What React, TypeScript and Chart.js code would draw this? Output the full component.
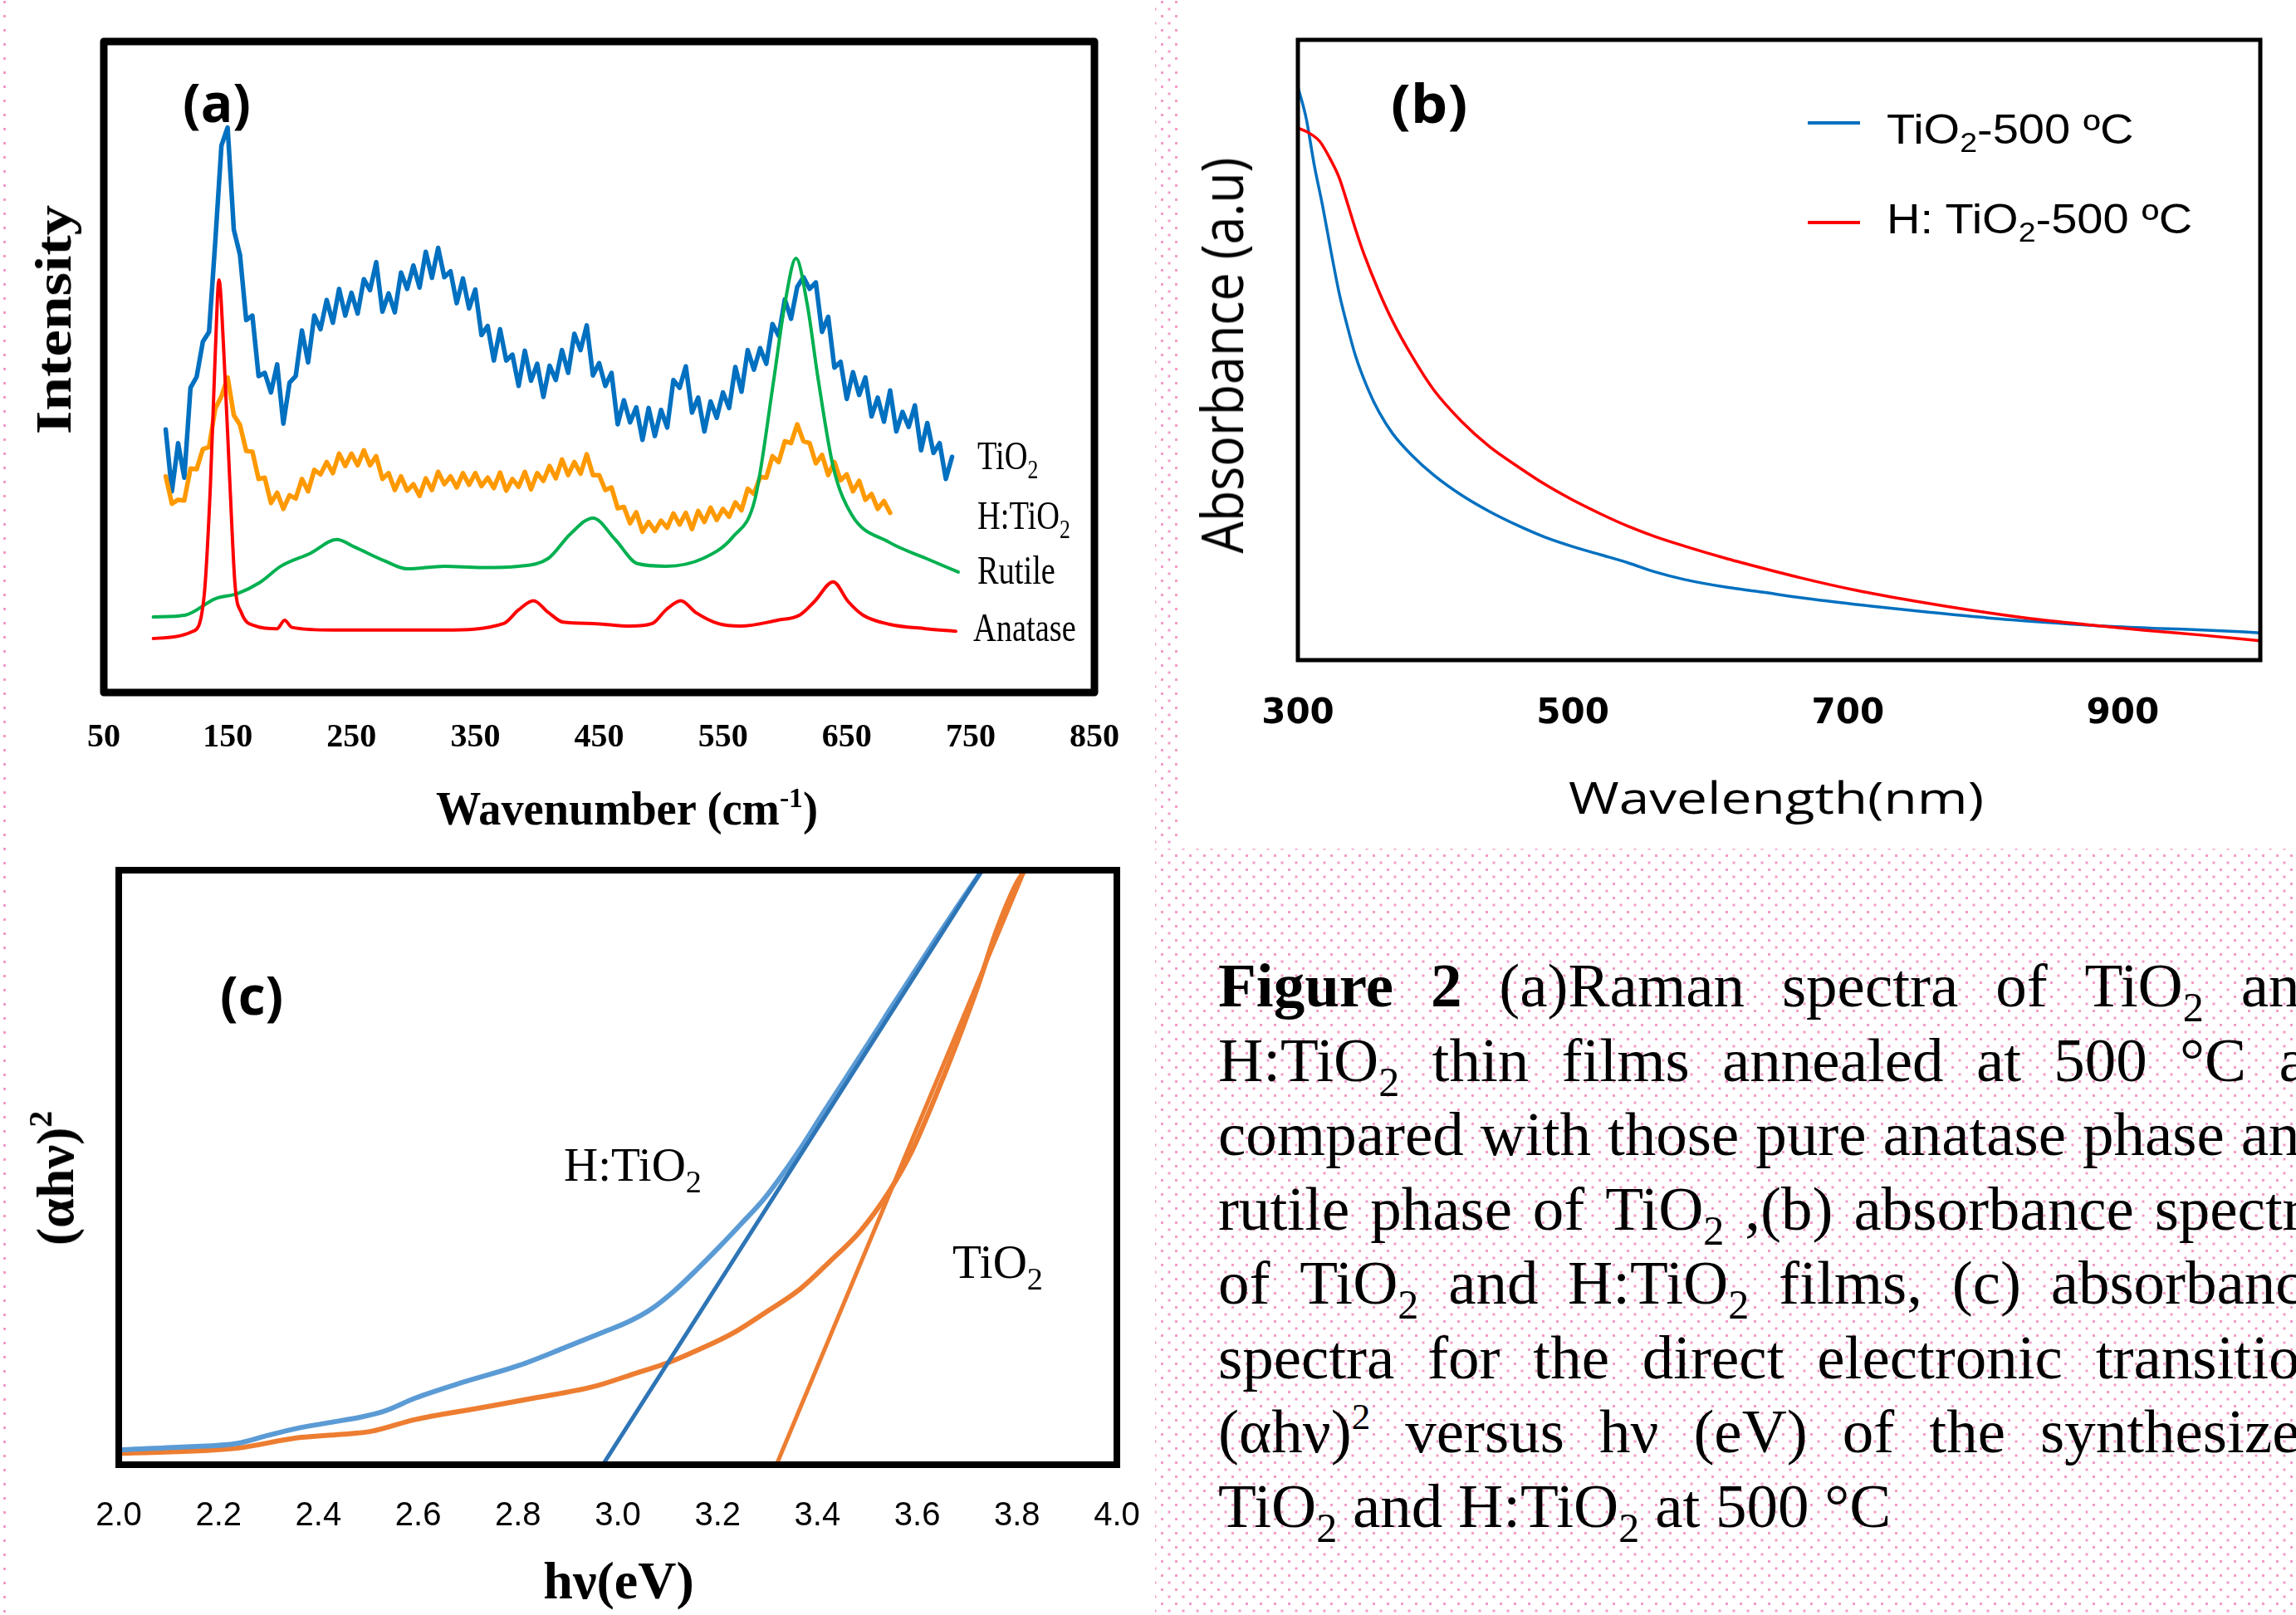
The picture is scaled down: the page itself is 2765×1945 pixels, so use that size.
import React, { useEffect, useRef } from 'react';
import { Chart, registerables } from 'chart.js';
Chart.register(...registerables);

// ---------------- Panel (a): Raman spectra ----------------
const RAMAN_TICKS = [50, 150, 250, 350, 450, 550, 650, 750, 850];
const RAMAN_GRID = [
  100, 105, 110, 115, 120, 125, 130, 135, 140, 145, 150, 155, 160, 165, 170, 175, 180, 185, 190, 195,
  200, 205, 210, 215, 220, 225, 230, 235, 240, 245, 250, 255, 260, 265, 270, 275, 280, 285, 290, 295,
  300, 305, 310, 315, 320, 325, 330, 335, 340, 345, 350, 355, 360, 365, 370, 375, 380, 385, 390, 395,
  400, 405, 410, 415, 420, 425, 430, 435, 440, 445, 450, 455, 460, 465, 470, 475, 480, 485, 490, 495,
  500, 505, 510, 515, 520, 525, 530, 535, 540, 545, 550, 555, 560, 565, 570, 575, 580, 585, 590, 595,
  600, 605, 610, 615, 620, 625, 630, 635, 640, 645, 650, 655, 660, 665, 670, 675, 680, 685, 690, 695,
  700, 705, 710, 715, 720, 725, 730, 735,
];
const TIO2_RAMAN = [
  40.4, 30.9, 38.3, 33.0, 46.8, 48.5, 53.9, 55.4, 69.2, 84.0, 86.8, 71.1, 67.2, 57.2, 57.9, 48.6, 49.1, 46.1, 50.4, 41.3,
  47.6, 48.6, 55.6, 50.7, 57.9, 55.8, 60.3, 56.8, 62.0, 57.9, 61.4, 58.2, 63.5, 61.8, 66.1, 58.5, 61.3, 58.4, 64.5, 62.0,
  65.6, 62.2, 67.7, 63.7, 68.3, 63.8, 64.7, 59.8, 63.6, 59.0, 61.9, 54.9, 56.3, 51.0, 55.8, 51.0, 51.9, 47.1, 52.5, 47.9,
  50.5, 45.4, 50.2, 48.0, 52.6, 49.1, 55.1, 52.6, 56.4, 48.7, 50.6, 47.1, 49.1, 41.2, 44.9, 41.5, 43.8, 38.8, 43.7, 39.4,
  43.4, 40.7, 48.0, 46.8, 50.1, 43.0, 45.3, 40.1, 44.7, 42.2, 46.1, 43.7, 50.0, 46.2, 52.6, 49.6, 52.9, 50.5, 56.6, 54.8,
  60.4, 57.4, 62.3, 63.8, 62.0, 63.0, 55.4, 57.7, 49.9, 50.8, 45.1, 49.2, 45.7, 48.4, 42.4, 45.3, 41.6, 46.4, 40.1, 43.1,
  40.8, 44.1, 37.2, 41.4, 36.8, 38.3, 32.8, 36.2,
];
// H:TiO2 shares the first 118 grid points (100 ... 685)
const HTIO2_RAMAN = [
  33.2, 29.0, 29.6, 29.5, 34.4, 34.3, 37.4, 37.7, 43.6, 45.5, 48.4, 42.6, 41.1, 37.1, 37.0, 32.8, 33.0, 29.1, 30.7, 28.2,
  30.3, 29.8, 32.8, 30.9, 34.2, 33.5, 35.4, 33.7, 36.7, 34.8, 36.7, 34.9, 37.2, 34.9, 36.3, 32.8, 33.7, 31.1, 33.2, 31.0,
  32.0, 30.2, 32.9, 31.1, 33.9, 32.0, 33.2, 31.5, 33.7, 31.9, 33.7, 31.7, 33.0, 31.4, 33.8, 31.0, 32.8, 31.6, 33.9, 31.2,
  33.7, 32.5, 34.8, 32.9, 35.8, 33.4, 35.4, 33.6, 36.6, 33.4, 33.4, 31.1, 31.5, 28.3, 28.5, 26.0, 27.7, 24.7, 26.2, 24.8,
  26.4, 25.3, 27.5, 25.8, 27.6, 25.1, 27.9, 26.2, 28.4, 26.5, 28.2, 27.0, 29.2, 28.0, 31.3, 30.5, 33.1, 33.0, 36.3, 35.4,
  38.6, 38.3, 41.2, 38.6, 38.3, 35.2, 36.5, 33.4, 35.4, 32.6, 33.5, 30.9, 32.5, 29.6, 30.5, 28.2, 29.4, 27.6,
];
const RUTILE_X = [90, 116, 140, 158, 176, 193, 217, 238, 253, 277, 295, 325, 355, 385, 409, 427, 445, 463, 481, 504, 534, 558, 576, 591, 600, 609, 618, 627, 639, 654, 684, 714, 740];
const RUTILE_Y = [11.6, 11.9, 14.4, 15.2, 16.9, 19.4, 21.4, 23.5, 22.3, 20.2, 19.0, 19.4, 19.2, 19.4, 20.6, 24.4, 26.8, 23.5, 19.8, 19.4, 20.6, 23.9, 29.8, 48.0, 59.7, 66.7, 59.7, 48.0, 34.7, 27.3, 23.1, 20.6, 18.5];
const ANATASE_X = [90, 122, 131, 136, 140, 143, 147, 152, 156, 161, 173, 190, 196, 202, 235, 325, 373, 385, 397, 409, 421, 445, 475, 493, 504, 516, 528, 546, 564, 594, 612, 624, 639, 651, 663, 684, 714, 738];
const ANATASE_Y = [8.3, 9.4, 14.8, 31.4, 52.0, 63.4, 52.0, 31.4, 16.5, 12.3, 10.2, 9.8, 11.1, 10.0, 9.6, 9.6, 10.6, 12.7, 14.1, 12.3, 10.8, 10.6, 10.2, 10.6, 12.7, 14.1, 12.3, 10.6, 10.2, 11.1, 11.9, 14.0, 17.0, 14.0, 11.9, 10.5, 9.8, 9.4];

// ---------------- Panel (b): absorbance ----------------
const ABS_TICKS = [300, 500, 700, 900];
const ABS_TIO2_X = [300, 306, 312, 318, 324, 330, 336, 342, 351, 359, 369, 383, 399, 419, 439, 460, 480, 500, 520, 540, 560, 581, 613, 633, 675, 717, 760, 802, 844, 886, 928, 965, 1000];
const ABS_TIO2_Y = [0.924, 0.874, 0.797, 0.732, 0.66, 0.592, 0.538, 0.49, 0.437, 0.4, 0.365, 0.33, 0.298, 0.266, 0.24, 0.217, 0.198, 0.183, 0.17, 0.157, 0.142, 0.13, 0.117, 0.111, 0.098, 0.087, 0.077, 0.068, 0.061, 0.055, 0.051, 0.048, 0.044];
const ABS_HTIO2_X = [300, 308, 316, 324, 330, 336, 342, 348, 359, 369, 383, 399, 419, 439, 460, 480, 500, 520, 540, 560, 581, 613, 623, 665, 707, 749, 791, 833, 875, 917, 959, 1000];
const ABS_HTIO2_Y = [0.858, 0.85, 0.836, 0.806, 0.778, 0.737, 0.694, 0.655, 0.594, 0.546, 0.49, 0.435, 0.385, 0.345, 0.312, 0.283, 0.258, 0.236, 0.216, 0.199, 0.184, 0.163, 0.157, 0.133, 0.112, 0.095, 0.08, 0.067, 0.057, 0.048, 0.04, 0.031];

// ---------------- Panel (c): Tauc plot ----------------
const TAUC_TICKS = [2.0, 2.2, 2.4, 2.6, 2.8, 3.0, 3.2, 3.4, 3.6, 3.8, 4.0];
const TAUC_H_X = [2.0, 2.134, 2.238, 2.297, 2.356, 2.416, 2.49, 2.535, 2.594, 2.683, 2.802, 2.891, 2.965, 3.025, 3.069, 3.114, 3.158, 3.203, 3.247, 3.292, 3.321, 3.366, 3.41, 3.455, 3.5, 3.544, 3.589, 3.633, 3.678, 3.73];
const TAUC_H_Y = [0.025, 0.03, 0.036, 0.049, 0.061, 0.07, 0.081, 0.091, 0.112, 0.137, 0.167, 0.196, 0.221, 0.242, 0.263, 0.293, 0.328, 0.366, 0.405, 0.446, 0.478, 0.532, 0.59, 0.648, 0.706, 0.764, 0.822, 0.879, 0.936, 1.0];
const TAUC_T_X = [2.0, 2.238, 2.356, 2.445, 2.505, 2.594, 2.713, 2.832, 2.95, 3.04, 3.099, 3.158, 3.232, 3.292, 3.366, 3.425, 3.485, 3.544, 3.589, 3.633, 3.678, 3.722, 3.759, 3.797, 3.815];
const TAUC_T_Y = [0.019, 0.028, 0.045, 0.051, 0.056, 0.076, 0.094, 0.112, 0.131, 0.155, 0.171, 0.192, 0.222, 0.254, 0.296, 0.342, 0.392, 0.46, 0.527, 0.612, 0.706, 0.806, 0.899, 0.975, 1.0];
const FIT_H_X = [2.97, 3.73];
const FIT_H_Y = [0, 1.0];
const FIT_T_X = [3.318, 3.815];
const FIT_T_Y = [0, 1.0];

// ---------------- helpers ----------------
const SERIF = "'Liberation Serif','Times New Roman',serif";
const SANS = "'Liberation Sans',Arial,sans-serif";
const OPEN = "'Open Sans',sans-serif";
const DEJAVU = "'DejaVu Sans',sans-serif";

const pts = (xs: number[], ys: number[]) => xs.map((x, i) => ({ x, y: ys[i] }));

const framePlugin = {
  id: 'frame',
  afterDraw(chart: any, _args: any, opts: any) {
    const { ctx, chartArea: a } = chart;
    ctx.save();
    ctx.strokeStyle = opts.color || '#000';
    ctx.lineWidth = opts.width || 4;
    ctx.lineJoin = opts.join || 'miter';
    ctx.strokeRect(a.left, a.top, a.right - a.left, a.bottom - a.top);
    for (const k of opts.keys || []) {
      ctx.strokeStyle = k.color;
      ctx.lineWidth = k.width;
      ctx.lineJoin = 'miter';
      ctx.beginPath();
      ctx.moveTo(k.x1, k.y);
      ctx.lineTo(k.x2, k.y);
      ctx.stroke();
    }
    ctx.restore();
  },
};

function baseOptions(o: any) {
  return {
    animation: false,
    responsive: false,
    maintainAspectRatio: false,
    devicePixelRatio: 1,
    events: [],
    layout: { padding: { left: o.pl, top: o.pt, right: o.pr, bottom: 0 } },
    plugins: { legend: { display: false }, tooltip: { enabled: false }, frame: o.frame },
    elements: { point: { radius: 0 } },
    scales: {
      x: {
        type: 'linear',
        min: o.xmin,
        max: o.xmax,
        grid: { display: false, drawTicks: false },
        border: { display: false },
        ticks: {
          color: '#000',
          font: o.font,
          padding: o.tickPad,
          maxRotation: 0,
          autoSkip: false,
          callback: o.fmt,
        },
        afterBuildTicks: (s: any) => {
          s.ticks = o.ticks.map((v: number) => ({ value: v }));
        },
        afterFit: (s: any) => {
          s.height = o.axisH;
        },
      },
      y: { type: 'linear', min: o.ymin, max: o.ymax, display: false },
    },
  };
}

function line(data: any[], color: string, width: number, smooth: boolean) {
  return {
    data,
    borderColor: color,
    backgroundColor: color,
    borderWidth: width,
    fill: false,
    pointRadius: 0,
    tension: smooth ? 0.4 : 0,
    cubicInterpolationMode: smooth ? 'monotone' : 'default',
    borderJoinStyle: 'round',
    borderCapStyle: 'round',
  };
}

function makeA() {
  return {
    type: 'line',
    data: {
      datasets: [
        line(pts(ANATASE_X, ANATASE_Y), '#FF0000', 4, true),
        line(pts(RUTILE_X, RUTILE_Y), '#00B050', 4, true),
        line(pts(RAMAN_GRID.slice(0, HTIO2_RAMAN.length), HTIO2_RAMAN), '#FF9900', 5.5, false),
        line(pts(RAMAN_GRID, TIO2_RAMAN), '#0070C0', 5.5, false),
      ],
    },
    options: baseOptions({
      pl: 125, pt: 50, pr: 82, axisH: 196, xmin: 50, xmax: 850, ymin: 0, ymax: 100,
      ticks: RAMAN_TICKS, tickPad: 31,
      font: { family: SERIF, size: 40, weight: 'bold' },
      fmt: (v: any) => String(v),
      frame: { color: '#000', width: 9, join: 'round' },
    }),
    plugins: [framePlugin],
  };
}

function makeB() {
  return {
    type: 'line',
    data: {
      datasets: [
        line(pts(ABS_HTIO2_X, ABS_HTIO2_Y), '#FF0000', 3.5, true),
        line(pts(ABS_TIO2_X, ABS_TIO2_Y), '#0070C0', 3.5, true),
      ],
    },
    options: baseOptions({
      pl: 163, pt: 48, pr: 43, axisH: 235, xmin: 300, xmax: 1000, ymin: 0, ymax: 1,
      ticks: ABS_TICKS, tickPad: 40,
      font: { family: DEJAVU, size: 42, weight: 'bold' },
      fmt: (v: any) => String(v),
      frame: {
        color: '#000', width: 5,
        keys: [
          { color: '#0070C0', width: 4, x1: 777, x2: 840, y: 148 },
          { color: '#FF0000', width: 4, x1: 777, x2: 840, y: 268 },
        ],
      },
    }),
    plugins: [framePlugin],
  };
}

function makeC() {
  return {
    type: 'line',
    data: {
      datasets: [
        line(pts(FIT_H_X, FIT_H_Y), '#2E75B6', 5, false),
        line(pts(FIT_T_X, FIT_T_Y), '#ED7D31', 5, false),
        line(pts(TAUC_H_X, TAUC_H_Y), '#5B9BD5', 6, true),
        line(pts(TAUC_T_X, TAUC_T_Y), '#ED7D31', 6, true),
      ],
    },
    options: baseOptions({
      pl: 143, pt: 18, pr: 85, axisH: 181, xmin: 2, xmax: 4, ymin: 0, ymax: 1,
      ticks: TAUC_TICKS, tickPad: 38,
      font: { family: SANS, size: 40, weight: 'normal' },
      fmt: (v: any) => Number(v).toFixed(1),
      frame: { color: '#000', width: 8 },
    }),
    plugins: [framePlugin],
  };
}

function ChartCanvas({ left, top, width, height, make }: any) {
  const ref = useRef<HTMLCanvasElement>(null);
  useEffect(() => {
    const chart = new Chart(ref.current as HTMLCanvasElement, make() as any);
    return () => chart.destroy();
  }, []);
  return (
    <canvas
      ref={ref}
      width={width}
      height={height}
      style={{ position: 'absolute', left, top, width, height }}
    />
  );
}

function Sub({ children, r = 0.65, d = 0.22 }: any) {
  return (
    <span style={{ fontSize: `${r}em`, position: 'relative', top: `${d / r}em`, lineHeight: 0 }}>{children}</span>
  );
}
function Sup({ children, r = 0.65, u = 0.4 }: any) {
  return (
    <span style={{ fontSize: `${r}em`, position: 'relative', top: `${-u / r}em`, lineHeight: 0 }}>{children}</span>
  );
}

// anchor: 'lb' left-baseline, 'cb' center-baseline, 'c' center (supports rotation)
function Txt({ x, y, size, family, weight = 400, sx = 1, rot = 0, anchor = 'lb', asc = 0.84, children }: any) {
  const st: any = {
    position: 'absolute',
    fontFamily: family,
    fontSize: size,
    fontWeight: weight,
    lineHeight: 1,
    whiteSpace: 'nowrap',
    color: '#000',
  };
  if (anchor === 'lb') {
    st.left = x;
    st.top = y - asc * size;
    st.transformOrigin = 'left center';
    st.transform = `scaleX(${sx})`;
  } else if (anchor === 'cb') {
    st.left = x;
    st.top = y - asc * size;
    st.transform = `translateX(-50%) scaleX(${sx})`;
  } else {
    st.left = x;
    st.top = y;
    st.transform = `translate(-50%,-50%) rotate(${rot}deg) scaleX(${sx})`;
  }
  return <div style={st}>{children}</div>;
}

const DOT = 'radial-gradient(circle at center, #f39ac6 0px, #f39ac6 1.4px, rgba(255,255,255,0) 1.9px)';

const TiO2 = (
  <>
    TiO<Sub r={0.67} d={0.24}>2</Sub>
  </>
);
const HTiO2 = (
  <>
    H:TiO<Sub r={0.67} d={0.24}>2</Sub>
  </>
);

const CAPTION_LINES: any[][] = [
  [<b>Figure</b>, <b>2</b>, '(a)Raman', 'spectra', 'of', TiO2, 'and'],
  [HTiO2, 'thin', 'films', 'annealed', 'at', '500', '°C', 'as'],
  ['compared', 'with', 'those', 'pure', 'anatase', 'phase', 'and'],
  ['rutile', 'phase', 'of', TiO2, ',(b)', 'absorbance', 'spectra'],
  ['of', TiO2, 'and', HTiO2, 'films,', '(c)', 'absorbance'],
  ['spectra', 'for', 'the', 'direct', 'electronic', 'transition'],
  [<>(αhν)<Sup r={0.6} u={0.38}>2</Sup></>, 'versus', 'hν', '(eV)', 'of', 'the', 'synthesized'],
  [TiO2, 'and', HTiO2, 'at', '500', '°C'],
];

export default function App() {
  return (
    <div
      style={{
        position: 'absolute',
        left: 0,
        top: 0,
        width: 2765,
        height: 1945,
        background: '#fff',
        overflow: 'hidden',
      }}
    >
      {/* dotted background areas */}
      <div
        style={{
          position: 'absolute', left: 1390.5, top: 1021.5, width: 1380, height: 930,
          backgroundImage: `${DOT}, ${DOT}`, backgroundSize: '17px 17px',
          backgroundPosition: '0px 0px, 8.5px 8.5px',
        }}
      />
      <div
        style={{
          position: 'absolute', left: 1390.5, top: -6.5, width: 28, height: 1026,
          backgroundImage: `${DOT}, ${DOT}`, backgroundSize: '17px 17px',
          backgroundPosition: '0px 0px, 8.5px 8.5px',
        }}
      />
      <div
        style={{
          position: 'absolute', left: -3.5, top: -6.5, width: 12, height: 1960,
          backgroundImage: DOT, backgroundSize: '17px 17px',
        }}
      />

      <ChartCanvas left={0} top={0} width={1400} height={1030} make={makeA} />
      <ChartCanvas left={1400} top={0} width={1365} height={1030} make={makeB} />
      <ChartCanvas left={0} top={1030} width={1430} height={915} make={makeC} />

      {/* Panel (a) text */}
      <Txt x={220} y={148} size={64} family={OPEN} weight={700} asc={0.888}>(a)</Txt>
      <Txt x={64} y={385} size={62} family={SERIF} weight={700} anchor="c" rot={-90} sx={1.18}>Intensity</Txt>
      <Txt x={755} y={993} size={56} family={SERIF} weight={700} anchor="cb" sx={0.97}>
        Wavenumber (cm<Sup r={0.62} u={0.38}>-1</Sup>)
      </Txt>
      <Txt x={1177} y={565} size={48} family={SERIF} sx={0.8}>{TiO2}</Txt>
      <Txt x={1177} y={637} size={48} family={SERIF} sx={0.8}>{HTiO2}</Txt>
      <Txt x={1177} y={703} size={48} family={SERIF} sx={0.8}>Rutile</Txt>
      <Txt x={1172} y={772} size={48} family={SERIF} sx={0.8}>Anatase</Txt>

      {/* Panel (b) text */}
      <Txt x={1675} y={149} size={64} family={OPEN} weight={700} asc={0.888} sx={1.1}>(b)</Txt>
      <Txt x={1470} y={428} size={70} family={OPEN} anchor="c" rot={-90} sx={0.87}>Absorbance (a.u)</Txt>
      <Txt x={2139} y={980} size={53} family={OPEN} anchor="cb" asc={0.888} sx={1.24}>Wavelength(nm)</Txt>
      <Txt x={2272} y={173} size={50} family={SANS} asc={0.8465} sx={1.12}>
        TiO<Sub r={0.67} d={0.2}>2</Sub>-500 ºC
      </Txt>
      <Txt x={2272} y={281} size={50} family={SANS} asc={0.8465} sx={1.12}>
        H: TiO<Sub r={0.67} d={0.2}>2</Sub>-500 ºC
      </Txt>

      {/* Panel (c) text */}
      <Txt x={265} y={1223} size={64} family={OPEN} weight={700} asc={0.888}>(c)</Txt>
      <Txt x={67} y={1419} size={64} family={SERIF} weight={700} anchor="c" rot={-90}>
        (αhν)<Sup r={0.62} u={0.4}>2</Sup>
      </Txt>
      <Txt x={745} y={1926} size={64} family={SERIF} weight={700} anchor="cb">hν(eV)</Txt>
      <Txt x={679} y={1422} size={57} family={SERIF}>{HTiO2}</Txt>
      <Txt x={1147} y={1539} size={57} family={SERIF}>{TiO2}</Txt>

      {/* Caption */}
      <div
        style={{
          position: 'absolute', left: 1467, top: 1142, fontFamily: SERIF, fontSize: 75,
          color: '#000', lineHeight: '89.5px',
        }}
      >
        {CAPTION_LINES.map((words, i) => {
          const last = i === CAPTION_LINES.length - 1;
          return (
            <div
              key={i}
              style={{
                display: 'flex',
                alignItems: 'baseline',
                justifyContent: last ? 'flex-start' : 'space-between',
                columnGap: last ? '0.25em' : undefined,
                width: 1340,
                height: 89.5,
                whiteSpace: 'nowrap',
              }}
            >
              {words.map((w, j) => (
                <span key={j}>{w}</span>
              ))}
            </div>
          );
        })}
      </div>
    </div>
  );
}
